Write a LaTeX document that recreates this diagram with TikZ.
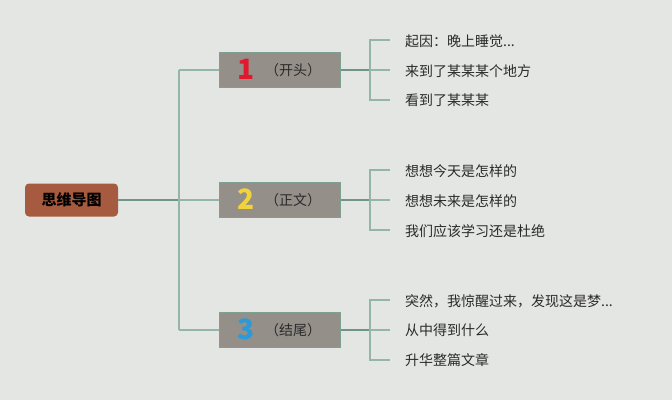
\documentclass[tikz,border=0pt]{standalone}
\usepackage{fontspec}
\setmainfont{Noto Sans CJK SC}
\newfontfamily\cjk{Noto Sans CJK SC}
\newfontfamily\numfont{Noto Sans CJK SC}
\definecolor{bgc}{HTML}{E4E6E3}
\definecolor{rootc}{HTML}{A65A3F}
\definecolor{boxc}{HTML}{948F88}
\definecolor{boxb}{HTML}{7FA090}
\definecolor{linec}{HTML}{93B6A7}
\definecolor{linedark}{HTML}{6E9585}
\definecolor{nred}{HTML}{E0192E}
\definecolor{nyel}{HTML}{F2D43A}
\definecolor{nblue}{HTML}{2A9BD8}
\definecolor{txt}{HTML}{2A2A2A}
\begin{document}
\begin{tikzpicture}[x=1pt,y=-1pt,
  rootbox/.style={draw=none,fill=rootc,rounded corners=4pt,minimum width=93pt,minimum height=33pt,inner sep=0pt,font=\cjk\bfseries\fontsize{15}{17}\selectfont,text=black},
  secbox/.style={draw=boxb,line width=1pt,fill=boxc,minimum width=121pt,minimum height=35pt,inner sep=0pt},
  leaf/.style={anchor=west,inner sep=0pt,font=\cjk\fontsize{14}{16}\selectfont,text=txt},
  conn/.style={draw=linec,line width=1.5pt},
  darkconn/.style={draw=linedark,line width=2pt},
  num/.style={font=\numfont\bfseries\fontsize{28}{30}\selectfont,inner sep=0pt},
  lab/.style={font=\cjk\fontsize{14}{16}\selectfont,text=txt,inner sep=0pt}]
\fill[bgc] (0,0) rectangle (672,400);
\useasboundingbox (0,0) rectangle (672,400);
% root
\node[rootbox] (root) at (71.5,200) {思维导图};
% section boxes
\node[secbox] (s1) at (279.5,70) {};
\node[secbox] (s2) at (279.5,200) {};
\node[secbox] (s3) at (279.5,330) {};
\node[num,text=nred] (n1) at (246,69) {1};
\node[num,text=nyel] (n2) at (246,199) {2};
\node[num,text=nblue] (n3) at (246,329) {3};
\node[lab] (t1) at (293,70) {（开头）};
\node[lab] (t2) at (293,200) {（正文）};
\node[lab] (t3) at (293,330) {（结尾）};
% trunk
\coordinate (tk) at (179,200);
\coordinate (tk1) at (179,70);
\coordinate (tk3) at (179,330);
\draw[darkconn] (root.east) -- (tk);
\draw[conn] (tk1) -- (tk3);
\draw[conn] (tk1) -- (s1.west);
\draw[conn] (tk) -- (s2.west);
\draw[conn] (tk3) -- (s3.west);
% leaves
\node[leaf] (l11) at (405,41) {起因：晚上睡觉...};
\node[leaf] (l12) at (405,71) {来到了某某某个地方};
\node[leaf] (l13) at (405,100) {看到了某某某};
\node[leaf] (l21) at (405,171) {想想今天是怎样的};
\node[leaf] (l22) at (405,201) {想想未来是怎样的};
\node[leaf] (l23) at (405,231) {我们应该学习还是杜绝};
\node[leaf] (l31) at (405,301) {突然，我惊醒过来，发现这是梦...};
\node[leaf] (l32) at (405,330) {从中得到什么};
\node[leaf] (l33) at (405,360) {升华整篇文章};
% brackets
\foreach \s/\ya/\yb/\yc in {s1/40/70/100, s2/170/200/230, s3/300/330/360}{
  \coordinate (bt) at (370,\ya);
  \coordinate (bm) at (370,\yb);
  \coordinate (bb) at (370,\yc);
  \coordinate (et) at (390,\ya);
  \coordinate (em) at (390,\yb);
  \coordinate (eb) at (390,\yc);
  \draw[darkconn] (\s.east) -- (bm);
  \draw[conn] (et) -- (bt) -- (bb) -- (eb);
  \draw[conn] (bm) -- (em);
}
\end{tikzpicture}
\end{document}
